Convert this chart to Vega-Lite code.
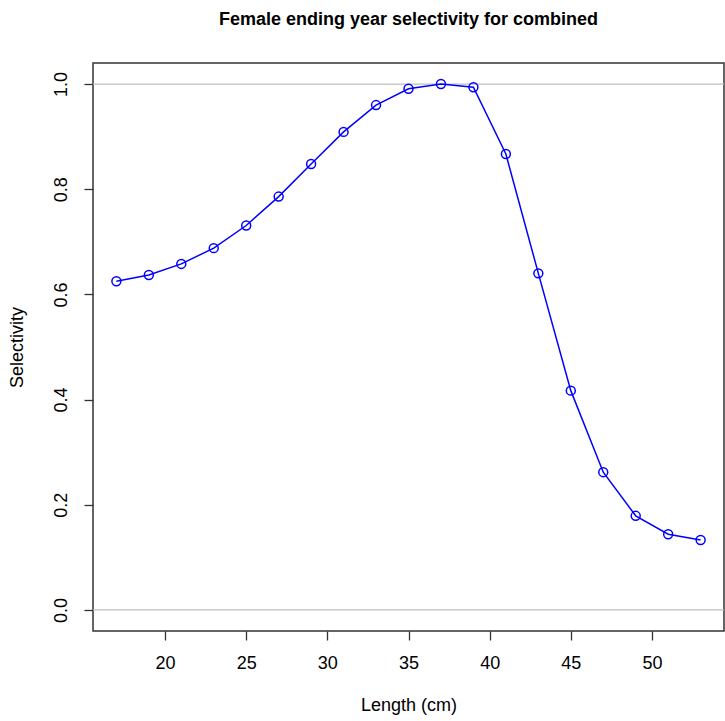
{
  "$schema": "https://vega.github.io/schema/vega-lite/v6.json",
  "width": 631,
  "height": 568,
  "autosize": "none",
  "padding": {"left": 93, "top": 63, "right": 1, "bottom": 90},
  "background": "white",
  "config": {
    "font": "Liberation Sans",
    "view": {"stroke": "#333333", "strokeWidth": 1.5}
  },
  "title": {
    "text": "Female ending year selectivity for combined",
    "font": "Liberation Sans",
    "fontSize": 18,
    "fontWeight": "bold",
    "color": "#000000",
    "anchor": "middle",
    "baseline": "alphabetic",
    "offset": 20
  },
  "data": {
    "values": [
      {"length": 17, "sel": 0.625},
      {"length": 19, "sel": 0.637},
      {"length": 21, "sel": 0.658},
      {"length": 23, "sel": 0.688},
      {"length": 25, "sel": 0.731},
      {"length": 27, "sel": 0.786},
      {"length": 29, "sel": 0.848},
      {"length": 31, "sel": 0.909},
      {"length": 33, "sel": 0.960},
      {"length": 35, "sel": 0.991},
      {"length": 37, "sel": 1.0},
      {"length": 39, "sel": 0.994},
      {"length": 41, "sel": 0.867},
      {"length": 43, "sel": 0.640},
      {"length": 45, "sel": 0.417},
      {"length": 47, "sel": 0.262},
      {"length": 49, "sel": 0.179},
      {"length": 51, "sel": 0.144},
      {"length": 53, "sel": 0.133}
    ]
  },
  "layer": [
    {
      "data": {"values": [{"ref": 0}, {"ref": 1}]},
      "mark": {"type": "rule", "color": "#bebebe", "strokeWidth": 1.2},
      "encoding": {
        "y": {"field": "ref", "type": "quantitative", "scale": {"domain": [-0.04, 1.04], "nice": false, "zero": false}}
      }
    },
    {
      "mark": {"type": "line", "color": "#0000ff", "strokeWidth": 1.5},
      "encoding": {
        "x": {
          "field": "length", "type": "quantitative",
          "scale": {"domain": [15.56, 54.44], "nice": false, "zero": false},
          "axis": {
            "title": "Length (cm)",
            "values": [20, 25, 30, 35, 40, 45, 50],
            "domain": false,
            "grid": false,
            "tickColor": "#333333",
            "tickSize": 9,
            "tickWidth": 1.3,
            "labelFontSize": 18,
            "labelColor": "#000000",
            "labelPadding": 14,
            "labelFont": "Liberation Sans",
            "titleFont": "Liberation Sans",
            "titleFontSize": 18,
            "titleFontWeight": "normal",
            "titleColor": "#000000",
            "titleBaseline": "middle",
            "titleY": 74
          }
        },
        "y": {
          "field": "sel", "type": "quantitative",
          "scale": {"domain": [-0.04, 1.04], "nice": false, "zero": false},
          "axis": {
            "title": "Selectivity",
            "values": [0, 0.2, 0.4, 0.6, 0.8, 1.0],
            "format": ".1f",
            "domain": false,
            "grid": false,
            "tickColor": "#333333",
            "tickSize": 9,
            "tickWidth": 1.3,
            "labelAngle": -90,
            "labelAlign": "center",
            "labelBaseline": "bottom",
            "labelFontSize": 18,
            "labelColor": "#000000",
            "labelPadding": 14,
            "labelFont": "Liberation Sans",
            "titleFont": "Liberation Sans",
            "titleFontSize": 18,
            "titleFontWeight": "normal",
            "titleColor": "#000000",
            "titleAngle": -90,
            "titleBaseline": "middle",
            "titleAlign": "center",
            "titleX": -76,
            "titleY": 284
          }
        }
      }
    },
    {
      "mark": {"type": "point", "shape": "circle", "filled": false, "color": "#0000ff", "size": 80, "strokeWidth": 1.5, "opacity": 1},
      "encoding": {
        "x": {"field": "length", "type": "quantitative"},
        "y": {"field": "sel", "type": "quantitative"}
      }
    }
  ]
}
